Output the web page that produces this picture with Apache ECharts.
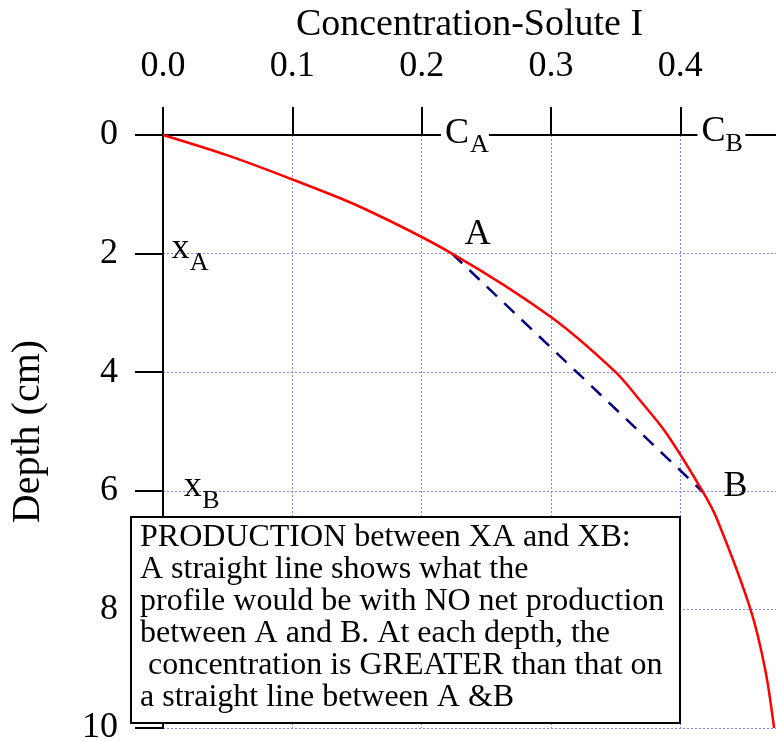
<!DOCTYPE html>
<html><head><meta charset="utf-8">
<script src="https://cdn.jsdelivr.net/npm/echarts@6/dist/echarts.min.js"></script>
<style>html,body{margin:0;padding:0;background:#fff}#c{width:776px;height:741px}</style>
</head><body><div id="c"></div>
<script>
// ---- data ----
const profileConc  = [0, 0.0494, 0.1,  0.1523, 0.2235, 0.3,  0.35, 0.3686, 0.3892, 0.4175, 0.4288, 0.4543, 0.4658, 0.4725];
const profileDepth = [0, 0.34,   0.75, 1.21,   2.0,    3.07, 4.0,  4.47,   5.03,   6.02,   6.5,    8.0,    9.03,   10];
const chordConc  = [0.2235, 0.4175];
const chordDepth = [2.0, 6.02];
const xTicks = [0, 0.1, 0.2, 0.3, 0.4];
const xTickLabels = ['0.0', '0.1', '0.2', '0.3', '0.4'];
const yTicks = [0, 2, 4, 6, 8, 10];
const yTickLabels = ['0', '2', '4', '6', '8', '10'];
const xTitle = 'Concentration-Solute I';
const yTitle = 'Depth (cm)';
const noteLines = [
  'PRODUCTION between XA and XB:',
  'A straight line shows what the',
  'profile would be with NO net production',
  'between A and B. At each depth, the',
  ' concentration is GREATER than that on',
  'a straight line between A &B'
];
// annotation labels: main text, subscript, anchor (conc, depth)
const labelMain  = ['C', 'C', 'A', 'B', 'x', 'x'];
const labelSub   = ['A', 'B', '', '', 'A', 'B'];
const labelConc  = [0.218, 0.4163, 0.2433, 0.4426, 0.0065, 0.016];
const labelDepth = [-0.03, -0.05, 1.68, 5.93, 1.91, 5.92];

const FONT = '"Liberation Serif", "Times New Roman", serif';
const chart = echarts.init(document.getElementById('c'), null, {renderer: 'canvas'});

const xLabelMap = {}; xTicks.forEach((v, i) => xLabelMap[v.toFixed(2)] = xTickLabels[i]);
const yLabelMap = {}; yTicks.forEach((v, i) => yLabelMap[v.toFixed(2)] = yTickLabels[i]);

chart.setOption({
  animation: false,
  backgroundColor: '#fff',
  grid: {left: 163, right: 0, top: 135, bottom: 13, containLabel: false, outerBoundsMode: 'none'},
  xAxis: {
    type: 'value', position: 'top', min: 0, max: 0.474, interval: 0.1, offset: 3,
    name: xTitle, nameLocation: 'middle', nameGap: 85,
    nameTextStyle: {fontFamily: FONT, fontSize: 38, color: '#000'},
    axisLine: {show: true, lineStyle: {color: '#000', width: 2}},
    axisTick: {show: true, inside: false, length: 28, lineStyle: {color: '#000', width: 2}},
    axisLabel: {show: true, margin: 47, fontFamily: FONT, fontSize: 36, color: '#000', showMaxLabel: false,
      formatter: v => xLabelMap[(+v).toFixed(2)] || ''},
    splitLine: {show: true, lineStyle: {color: '#8080ff', width: 1, type: [2, 2]}}
  },
  yAxis: {
    type: 'value', inverse: true, min: 0, max: 10, interval: 2, offset: 3,
    name: yTitle, nameLocation: 'middle', nameGap: 112, nameRotate: 90,
    nameTextStyle: {fontFamily: FONT, fontSize: 40, color: '#000'},
    axisLine: {show: true, lineStyle: {color: '#000', width: 2}},
    axisTick: {show: true, inside: false, length: 28, lineStyle: {color: '#000', width: 2}},
    axisLabel: {show: true, margin: 42, fontFamily: FONT, fontSize: 36, color: '#000',
      formatter: v => yLabelMap[(+v).toFixed(2)] || ''},
    splitLine: {show: true, lineStyle: {color: '#8080ff', width: 1, type: [2, 2]}}
  },
  series: [
    {
      name: 'profile', type: 'line', smooth: 0.3, symbol: 'none', clip: true,
      data: profileConc.map((c, i) => [c, profileDepth[i]]),
      lineStyle: {color: '#ff0000', width: 2.5}, z: 3
    },
    {
      name: 'chord', type: 'line', symbol: 'none',
      data: chordConc.map((c, i) => [c, chordDepth[i]]),
      lineStyle: {color: '#000080', width: 2.5, type: [14, 10]}, z: 2
    }
  ]
});

// annotations
const subDx = [25, 24, 0, 0, 18.3, 18.6];
const subDy = [11.5, 12, 0, 0, 15, 15];
const masked = [true, true, false, false, false, false];
const centered = [false, false, true, true, false, false];
const gfx = [];
labelMain.forEach((m, i) => {
  const p = chart.convertToPixel({xAxisIndex: 0, yAxisIndex: 0}, [labelConc[i], labelDepth[i]]);
  if (masked[i]) {
    gfx.push({type: 'rect', z: 90, shape: {x: p[0] - 4, y: p[1] - 6, width: 48, height: 12}, style: {fill: '#fff'}});
  }
  gfx.push({type: 'text', z: 100, style: {text: m, x: p[0], y: p[1], font: '36px ' + FONT, fill: '#000',
    align: centered[i] ? 'center' : 'left', verticalAlign: 'middle'}});
  if (labelSub[i]) {
    gfx.push({type: 'text', z: 100, style: {text: labelSub[i], x: p[0] + subDx[i], y: p[1] + subDy[i],
      font: '26px ' + FONT, fill: '#000', align: 'left', verticalAlign: 'middle'}});
  }
});
gfx.push({type: 'rect', z: 100, shape: {x: 131, y: 517, width: 549, height: 206},
  style: {fill: '#fff', stroke: '#000', lineWidth: 2}});
gfx.push({type: 'text', z: 101, style: {text: noteLines.join('\n'), x: 140, y: 522, font: '32px ' + FONT,
  lineHeight: 32, fill: '#000', align: 'left', verticalAlign: 'top'}});
chart.setOption({graphic: gfx});
</script>
</body></html>
